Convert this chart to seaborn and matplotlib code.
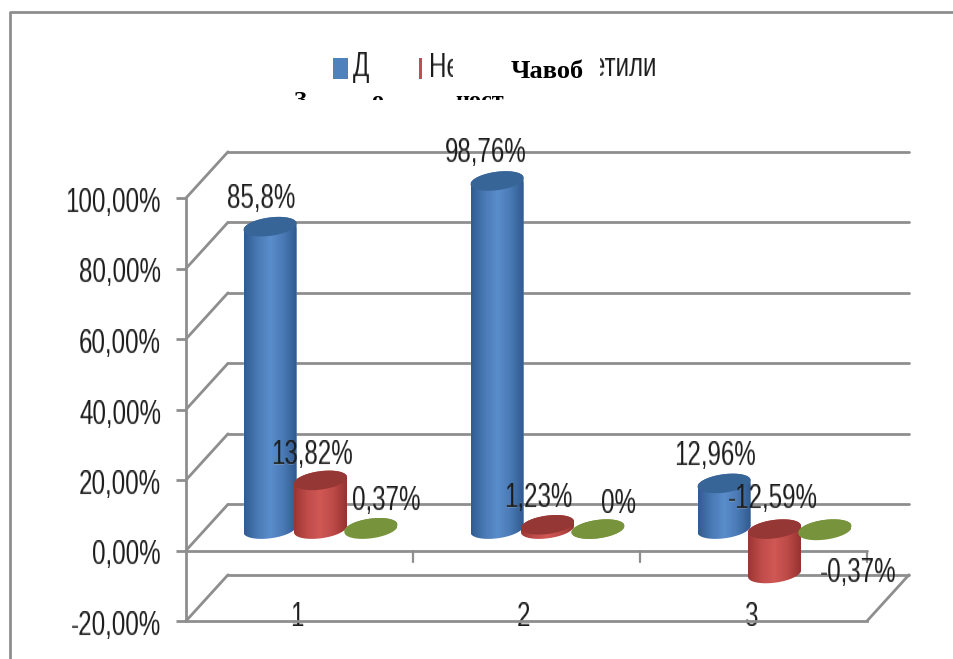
import numpy as np
import pandas as pd
import matplotlib
matplotlib.use("Agg")
import matplotlib.pyplot as plt
import seaborn as sns
from matplotlib.lines import Line2D
from matplotlib.patches import Polygon, Rectangle
from matplotlib.transforms import Affine2D, Bbox

categories = ["1", "2", "3"]
series_names = ["Да", "Нет", "Не ответили"]
values_da = [85.8, 98.76, 12.96]
values_net = [13.82, 1.23, -12.59]
values_na = [0.37, 0, -0.37]
y_ticks = [-20, 0, 20, 40, 60, 80, 100]

W, H = 954, 659
GREY = "#8e8e8e"
TEXT = "#1c1c1c"
FS = 17.4
TALL = 1.42

sns.set_style("white")
plt.rcParams["font.family"] = ["Liberation Sans", "DejaVu Sans"]


def tall(img, dpi):
    """Stretch a drawn text vertically about its centre (the source text is squeezed)."""
    h = img.shape[0]
    new_h = max(int(round(h * TALL)), 1)
    pos = (np.arange(new_h) + 0.5) / TALL - 0.5
    i0 = np.clip(np.floor(pos).astype(int), 0, h - 1)
    i1 = np.clip(i0 + 1, 0, h - 1)
    f = (pos - i0).clip(0, 1)[:, None, None]
    out = img[i0] * (1 - f) + img[i1] * f
    return out, 0, -int((new_h - h) / 2)


df = pd.DataFrame({
    "cat": categories * 3,
    "series": np.repeat(series_names, 3),
    "val": values_da + values_net + values_na,
})

fig = plt.figure(figsize=(W / 100, H / 100), dpi=100, facecolor="white")
ax = fig.add_axes([186 / W, (H - 621) / H, (867 - 186) / W, (621 - 198) / H])

palette = {"Да": "#4f81bd", "Нет": "#c0504d", "Не ответили": "#9bbb59"}
sns.barplot(data=df, x="cat", y="val", hue="series", order=categories,
            hue_order=series_names, palette=palette, width=0.667, gap=0,
            legend=False, ax=ax, zorder=3, err_kws={"linewidth": 0})

ax.set_xlim(-0.5, 2.5)
ax.set_ylim(-20, 100)
ax.set_xlabel("")
ax.set_ylabel("")
ax.patch.set_alpha(0)

LW = 2.0
for s in ("top", "right"):
    ax.spines[s].set_visible(False)
for s in ("left", "bottom"):
    ax.spines[s].set_color(GREY)
    ax.spines[s].set_linewidth(LW)

ax.set_yticks(y_ticks)
ax.set_yticklabels([f"{v:.2f}%".replace(".", ",") for v in y_ticks])
ax.tick_params(axis="y", left=True, length=7, width=LW, color=GREY, pad=11,
               labelsize=FS, labelcolor=TEXT)
ax.tick_params(axis="x", bottom=False, pad=-14.5, labelsize=FS, labelcolor=TEXT)
for lab in ax.get_yticklabels():
    lab.set_agg_filter(tall)
    lab.set_transform(lab.get_transform() + Affine2D().translate(0, -2.5))
for lab in ax.get_xticklabels():
    lab.set_agg_filter(tall)
    lab.set_transform(lab.get_transform() + Affine2D().translate(-2.5, 0))

# pseudo-3D box: depth of the back wall and of the bar row, in data units
wx, wy = 42 / 227, 46 / 3.51
bx, by = 21 / 227, 21.3 / 3.51
for v in y_ticks:
    ax.plot([-0.5, wx - 0.5], [v, v + wy], color=GREY, lw=LW, clip_on=False, zorder=1)
    ax.plot([-0.5 + wx, 2.5 + wx], [v + wy, v + wy], color=GREY, lw=LW, clip_on=False, zorder=1)
ax.plot([2.5, 2.5 + wx], [-20, -20 + wy], color=GREY, lw=LW, clip_on=False, zorder=1)
ax.plot([-0.5, 2.5], [0, 0], color=GREY, lw=LW, clip_on=False, zorder=1)
for xb in (0.5, 1.5, 2.5):
    ax.plot([xb, xb], [0, -3.2], color=GREY, lw=1.6, clip_on=False, zorder=1)

# cylinder shading laid over seaborn's bars
a = 26.5 / 227
b = 9.2 / 3.51
k = 3.2 / 3.51


def arc(cx, c, t0, t1):
    t = np.linspace(t0, t1, 60)
    return np.column_stack([cx + a * np.cos(t), c + b * np.sin(t) + k * np.cos(t)])


shades = {
    "Да": (["#2f5c92", "#4a7ab5", "#5a8dcc", "#4a7ab5", "#2f5a8e"], "#386597"),
    "Нет": (["#9c3633", "#c04c49", "#d05855", "#bd4a47", "#973331"], "#953735"),
    "Не ответили": (["#7a963c", "#7a963c"], "#77933c"),
}
offsets = {
    "Да": [(-8.5, 27.5), (-11, 27.5), (-9.5, 27.5)],
    "Нет": [(-8, 25), (-9, 26.5), (-2, 30)],
    "Не ответили": [(15, 27), (21, 25), (33.5, -44)],
}
for name, container in zip(series_names, ax.containers):
    stops, top_col = shades[name]
    cmap = matplotlib.colors.LinearSegmentedColormap.from_list(name, stops)
    for i, patch in enumerate(container.patches):
        v = patch.get_height()
        cx = patch.get_x() + patch.get_width() / 2 + bx
        hi, lo = max(v, 0) + by, min(v, 0) + by
        outline = np.vstack([arc(cx, hi, 0, np.pi), arc(cx, lo, np.pi, 2 * np.pi)])
        body = Polygon(outline, closed=True, transform=ax.transData)
        patch.set_x(cx - a)
        patch.set_width(2 * a)
        patch.set_y(lo)
        patch.set_height(hi - lo)
        patch.set_clip_box(fig.bbox)
        patch.set_clip_path(body)
        im = ax.imshow(np.linspace(0, 1, 64)[None, :], cmap=cmap, aspect="auto",
                       extent=[cx - a, cx + a, lo - 4, hi + 4],
                       zorder=3 + 0.1 * i + 0.01)
        im.set_clip_box(fig.bbox)
        im.set_clip_path(body)
        ax.add_patch(Polygon(arc(cx, hi, 0, 2 * np.pi), closed=True, fc=top_col, ec="none",
                             zorder=3 + 0.1 * i + 0.02, clip_on=False))
        dx, dy = offsets[name][i]
        note = ax.text(cx, hi, f"{v:g}%".replace(".", ","),
                       transform=ax.transData + Affine2D().translate(dx, dy),
                       ha="center", va="center", fontsize=FS, color=TEXT, zorder=8,
                       clip_on=False)
        note.set_agg_filter(tall)
ax.set_xlim(-0.5, 2.5)
ax.set_ylim(-20, 100)

# outer chart frame
fig.add_artist(Line2D([10 / W, 10 / W, 1], [0, (H - 12) / H, (H - 12) / H], color=GREY, lw=2.0))


def clipped(x, y, s, box, **kw):
    t = fig.text(x / W, (H - y) / H, s, **kw)
    t.set_clip_box(Bbox([[box[0], H - box[3]], [box[2], H - box[1]]]))
    t.set_clip_on(True)
    return t


# legend, partly hidden in the source by the overlaid title
fig.add_artist(Rectangle((333 / W, (H - 79) / H), 15 / W, 21 / H, fc="#4f81bd", ec="none",
                         transform=fig.transFigure))
fig.add_artist(Rectangle((419 / W, (H - 79) / H), 3 / W, 21 / H, fc="#c0504d", ec="none",
                         transform=fig.transFigure))
lk = dict(fontsize=FS, color=TEXT, va="center")
clipped(353, 68, "Д", (350, 30, 375, 100), ha="left", **lk).set_agg_filter(tall)
clipped(429, 68, "Нет", (425, 30, 453, 100), ha="left", **lk).set_agg_filter(tall)
clipped(656, 68, "етили", (600, 30, 670, 100), ha="right", **lk).set_agg_filter(tall)

serif = dict(family="Liberation Serif", fontweight="bold", color="black", ha="left", va="baseline")
fig.text(511 / W, (H - 78) / H, "Чавоб", fontsize=19, **serif)
clipped(294, 107, "З", (285, 90, 320, 100), fontsize=17.5, **serif)
clipped(371, 107, "о", (360, 90, 395, 100), fontsize=17.5, **serif)
clipped(455, 107, "ност", (450, 90, 510, 100), fontsize=17.5, **serif)

fig.savefig("out.png", dpi=100, facecolor="white")
